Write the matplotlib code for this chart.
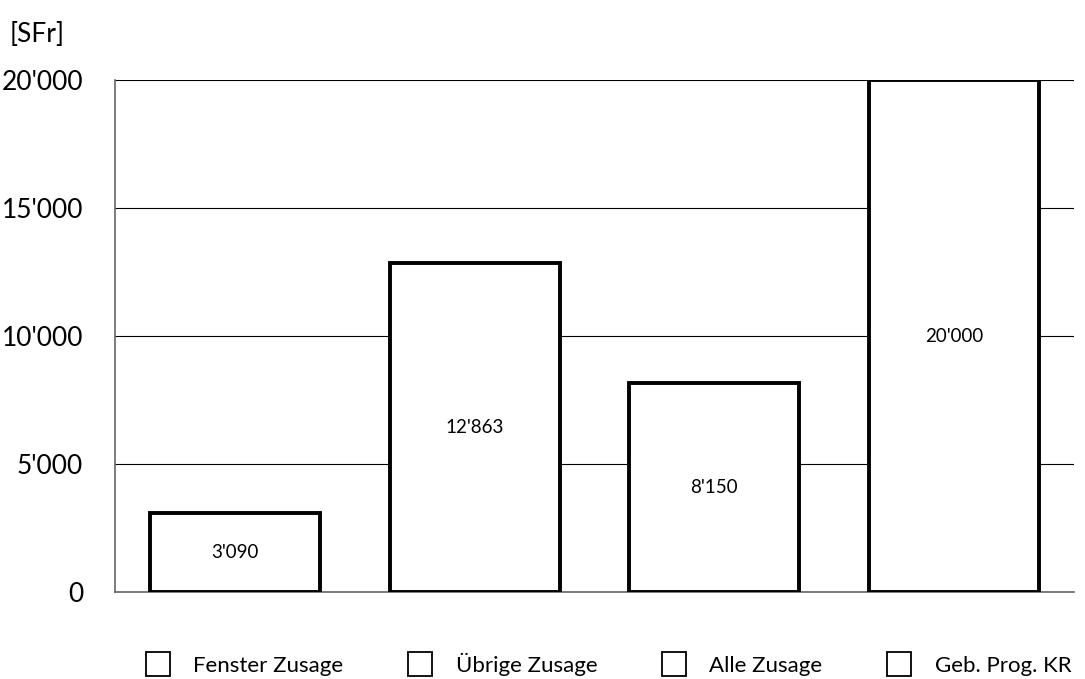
import matplotlib
matplotlib.use('Agg')
import matplotlib.pyplot as plt
from matplotlib.lines import Line2D

# Daten
kategorien = ['Fenster Zusage', 'Übrige Zusage', 'Alle Zusage', 'Geb. Prog. KR']
werte = [3090, 12863, 8150, 20000]
y_ticks = [0, 5000, 10000, 15000, 20000]


def fmt(v):
    return f"{v:,}".replace(',', "'")


plt.rcParams['font.family'] = ['Lato', 'DejaVu Sans']

fig = plt.figure(figsize=(10.85, 6.79), dpi=100)
ax = fig.add_axes([115 / 1085, 1 - 592 / 679, 959 / 1085, 512 / 679])

x = list(range(len(werte)))
bars = ax.bar(x, werte, width=0.71, color='white', edgecolor='black', linewidth=2.8, zorder=3)

for b, v in zip(bars, werte):
    ax.text(b.get_x() + b.get_width() / 2, v / 2, fmt(v), ha='center', va='center',
            fontsize=13.5, zorder=4)

ax.set_xlim(-0.5, len(werte) - 0.5)
ax.set_ylim(0, 20000)
ax.set_yticks(y_ticks)
ax.set_yticklabels([fmt(t) for t in y_ticks], fontsize=19)
ax.set_xticks([])
ax.tick_params(axis='y', length=0, pad=23)
ax.yaxis.grid(True, color='black', linewidth=0.8, zorder=0)
ax.set_axisbelow(True)

for s in ['top', 'right']:
    ax.spines[s].set_visible(False)
for s in ['left', 'bottom']:
    ax.spines[s].set_color('#666666')
    ax.spines[s].set_linewidth(1.2)

fig.text(10 / 1085, 1 - 34 / 679, '[SFr]', fontsize=19, va='center', ha='left')

handles = [Line2D([0], [0], marker='s', linestyle='none', markersize=17,
                  markerfacecolor='white', markeredgecolor='black', markeredgewidth=1.3)
           for _ in kategorien]
fig.legend(handles, kategorien, loc='center', bbox_to_anchor=(609 / 1085, 1 - 664 / 679),
           ncol=4, frameon=False, fontsize=16, handletextpad=1.1, columnspacing=2.95,
           handlelength=1.0)

plt.savefig('out.png', dpi=100)
